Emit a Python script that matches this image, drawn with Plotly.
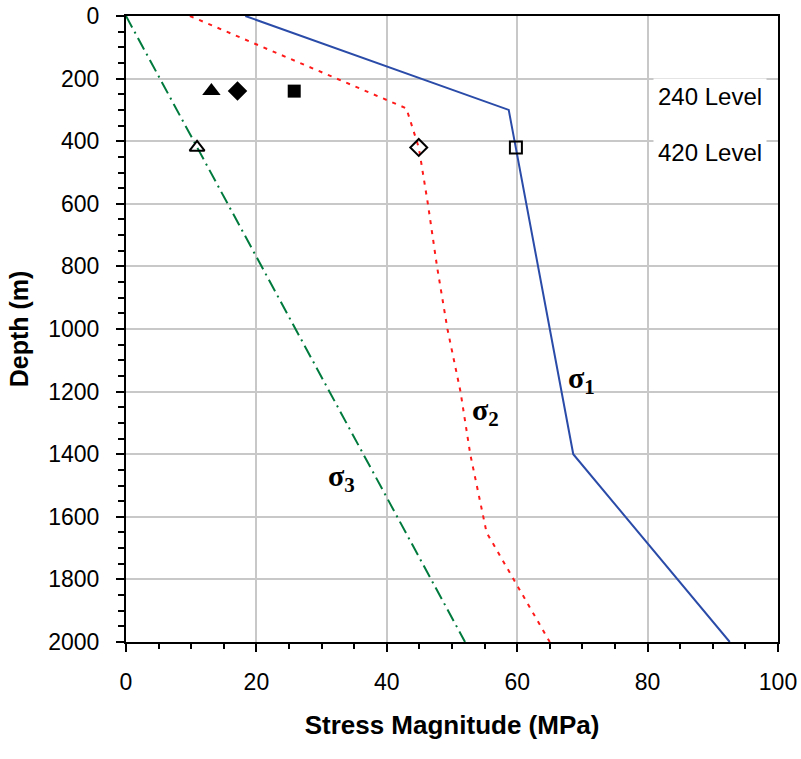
import plotly.graph_objects as go

# sigma1 (blue, solid)
s1_stress = [18.3, 58.7, 68.6, 92.6]
s1_depth = [0, 300, 1400, 2000]

# sigma2 (red, dotted)
s2_stress = [9.8, 43.0, 44.9, 46.3, 47.7, 49.3, 51.3, 52.8, 54.3, 55.3, 65.0]
s2_depth = [0, 295, 420, 600, 800, 1000, 1200, 1400, 1550, 1650, 2000]

# sigma3 (green, dash-dot)
s3_stress = [0, 52.0]
s3_depth = [0, 2000]

# measured points: 240 level (filled) and 420 level (open)
lvl240_stress = [13.1, 17.1, 25.8]
lvl240_depth = [240, 240, 240]
lvl240_symbols = ["triangle-up", "diamond", "square"]
lvl420_stress = [10.9, 44.9, 59.8]
lvl420_depth = [420, 420, 420]
lvl420_symbols = ["triangle-up-open", "diamond-open", "square-open"]

level_labels = ["240 Level", "420 Level"]
level_label_depth = [256, 436]
level_label_x = 80.8

sigma_labels = ["σ<sub>1</sub>", "σ<sub>2</sub>", "σ<sub>3</sub>"]
sigma_label_x = [69.8, 55.2, 33.0]
sigma_label_y = [1163, 1265, 1476]

fig = go.Figure()
fig.add_trace(go.Scatter(x=s3_stress, y=s3_depth, mode="lines",
                         line=dict(color="#007A3D", width=2, dash="13px,5px,2px,5px")))
fig.add_trace(go.Scatter(x=s2_stress, y=s2_depth, mode="lines",
                         line=dict(color="#FF1A1A", width=2, dash="4px,6px")))
fig.add_trace(go.Scatter(x=s1_stress, y=s1_depth, mode="lines",
                         line=dict(color="#2A4BA8", width=2)))
fig.add_trace(go.Scatter(x=lvl240_stress, y=lvl240_depth, mode="markers",
                         marker=dict(symbol=lvl240_symbols, size=[16, 15, 13], color="#000000",
                                     opacity=1, line=dict(width=0, color="#000000"))))
fig.add_trace(go.Scatter(x=lvl420_stress, y=lvl420_depth, mode="markers",
                         marker=dict(symbol=lvl420_symbols, size=[13, 13, 12], color="#000000",
                                     opacity=1, line=dict(width=2, color="#000000"))))

for t, d in zip(level_labels, level_label_depth):
    fig.add_annotation(x=level_label_x, y=d, text=t, showarrow=False, xanchor="left",
                       yanchor="middle", bgcolor="white", borderpad=4,
                       font=dict(family="Arial", size=24, color="black"))

for t, x, y in zip(sigma_labels, sigma_label_x, sigma_label_y):
    fig.add_annotation(x=x, y=y, text="<b>" + t + "</b>", showarrow=False, xanchor="center",
                       yanchor="middle",
                       font=dict(family="Liberation Serif", size=30, color="black"))

fig.update_layout(
    width=801, height=759,
    margin=dict(l=126, r=23, t=16, b=117),
    plot_bgcolor="white", paper_bgcolor="white",
    showlegend=False,
    font=dict(family="Arial", color="black"),
)
fig.update_xaxes(range=[0, 100], dtick=20, tick0=0, showgrid=True, gridcolor="#C8C8C8", gridwidth=2,
                 showline=True, linecolor="black", linewidth=2, mirror=True, automargin=False,
                 ticks="outside", ticklen=8, tickwidth=1.5, tickcolor="black",
                 minor=dict(ticks="outside", dtick=5, ticklen=5, tickwidth=1.5, tickcolor="black", showgrid=False),
                 tickfont=dict(size=23), ticklabelstandoff=10, zeroline=False,
                 title=dict(text="<b>Stress Magnitude (MPa)</b>", font=dict(size=26), standoff=22))
fig.update_yaxes(range=[2000, 0], dtick=200, tick0=0, showgrid=True, gridcolor="#C8C8C8", gridwidth=2,
                 showline=True, linecolor="black", linewidth=2, mirror=True, automargin=False,
                 ticks="outside", ticklen=8, tickwidth=1.5, tickcolor="black",
                 minor=dict(ticks="outside", dtick=50, ticklen=6, tickwidth=1.5, tickcolor="black", showgrid=False),
                 tickfont=dict(size=23), ticklabelstandoff=12, zeroline=False,
                 title=dict(text="<b>Depth (m)</b>", font=dict(size=25), standoff=12))

fig.write_html("out.html")
